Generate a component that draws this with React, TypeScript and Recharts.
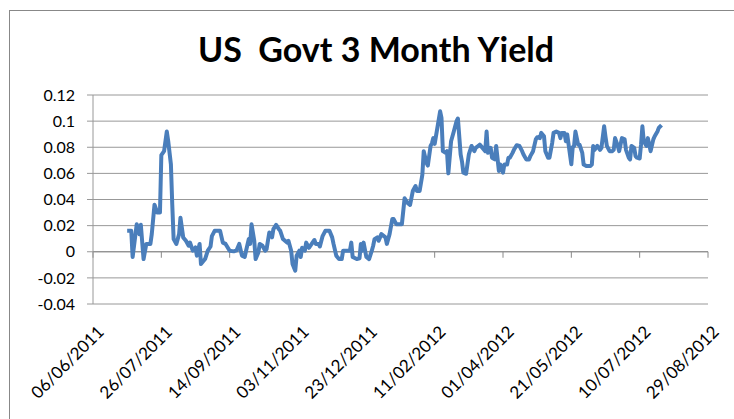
import { LineChart, Line, XAxis, YAxis, CartesianGrid, ReferenceLine } from "recharts";

const title = "US  Govt 3 Month Yield";

const tickLabels = [
  "06/06/2011", "26/07/2011", "14/09/2011", "03/11/2011", "23/12/2011",
  "11/02/2012", "01/04/2012", "21/05/2012", "10/07/2012", "29/08/2012",
];

const yTicks = [-0.04, -0.02, 0, 0.02, 0.04, 0.06, 0.08, 0.1, 0.12];

// observation dates (dd/mm/yyyy), one line per month
const dates = [
  "01/07/2011", "04/07/2011", "05/07/2011", "08/07/2011", "10/07/2011", "11/07/2011", "13/07/2011", "15/07/2011", "18/07/2011", "19/07/2011", "21/07/2011", "23/07/2011", "25/07/2011", "26/07/2011", "28/07/2011", "30/07/2011", "31/07/2011",
  "02/08/2011", "03/08/2011", "04/08/2011", "06/08/2011", "08/08/2011", "09/08/2011", "11/08/2011", "13/08/2011", "15/08/2011", "16/08/2011", "18/08/2011", "20/08/2011", "21/08/2011", "23/08/2011", "24/08/2011", "27/08/2011", "29/08/2011", "31/08/2011",
  "01/09/2011", "03/09/2011", "07/09/2011", "09/09/2011", "11/09/2011", "14/09/2011", "17/09/2011", "19/09/2011", "21/09/2011", "23/09/2011", "25/09/2011", "26/09/2011", "28/09/2011", "29/09/2011", "30/09/2011",
  "02/10/2011", "03/10/2011", "05/10/2011", "06/10/2011", "08/10/2011", "10/10/2011", "11/10/2011", "13/10/2011", "15/10/2011", "16/10/2011", "18/10/2011", "20/10/2011", "21/10/2011", "23/10/2011", "26/10/2011", "27/10/2011", "29/10/2011", "30/10/2011",
  "01/11/2011", "02/11/2011", "04/11/2011", "05/11/2011", "06/11/2011", "08/11/2011", "09/11/2011", "11/11/2011", "13/11/2011", "15/11/2011", "16/11/2011", "18/11/2011", "19/11/2011", "21/11/2011", "23/11/2011", "26/11/2011", "28/11/2011", "29/11/2011",
  "01/12/2011", "03/12/2011", "05/12/2011", "06/12/2011", "11/12/2011", "12/12/2011", "13/12/2011", "16/12/2011", "18/12/2011", "19/12/2011", "20/12/2011", "21/12/2011", "23/12/2011", "25/12/2011", "27/12/2011", "28/12/2011", "29/12/2011", "31/12/2011",
  "01/01/2012", "03/01/2012", "06/01/2012", "07/01/2012", "09/01/2012", "11/01/2012", "12/01/2012", "14/01/2012", "18/01/2012", "20/01/2012", "22/01/2012", "24/01/2012", "26/01/2012", "28/01/2012", "29/01/2012", "31/01/2012",
  "02/02/2012", "03/02/2012", "05/02/2012", "06/02/2012", "08/02/2012", "09/02/2012", "10/02/2012", "11/02/2012", "13/02/2012", "15/02/2012", "16/02/2012", "17/02/2012", "19/02/2012", "20/02/2012", "21/02/2012", "23/02/2012", "25/02/2012", "27/02/2012", "28/02/2012",
  "01/03/2012", "02/03/2012", "03/03/2012", "05/03/2012", "07/03/2012", "09/03/2012", "11/03/2012", "12/03/2012", "14/03/2012", "15/03/2012", "17/03/2012", "19/03/2012", "20/03/2012", "21/03/2012", "23/03/2012", "24/03/2012", "26/03/2012", "27/03/2012", "29/03/2012", "30/03/2012",
  "01/04/2012", "02/04/2012", "04/04/2012", "05/04/2012", "06/04/2012", "08/04/2012", "09/04/2012", "11/04/2012", "13/04/2012", "15/04/2012", "16/04/2012", "18/04/2012", "20/04/2012", "21/04/2012", "23/04/2012", "25/04/2012", "26/04/2012", "28/04/2012", "29/04/2012",
  "01/05/2012", "02/05/2012", "04/05/2012", "05/05/2012", "07/05/2012", "08/05/2012", "10/05/2012", "12/05/2012", "13/05/2012", "14/05/2012", "16/05/2012", "17/05/2012", "18/05/2012", "20/05/2012", "21/05/2012", "22/05/2012", "23/05/2012", "24/05/2012", "26/05/2012", "27/05/2012", "29/05/2012", "30/05/2012",
  "01/06/2012", "04/06/2012", "05/06/2012", "06/06/2012", "07/06/2012", "09/06/2012", "11/06/2012", "12/06/2012", "14/06/2012", "15/06/2012", "16/06/2012", "18/06/2012", "20/06/2012", "21/06/2012", "22/06/2012", "24/06/2012", "25/06/2012", "27/06/2012", "29/06/2012", "30/06/2012",
  "02/07/2012", "03/07/2012", "04/07/2012", "06/07/2012", "07/07/2012", "08/07/2012", "10/07/2012", "11/07/2012", "12/07/2012", "13/07/2012", "15/07/2012", "16/07/2012", "18/07/2012", "20/07/2012", "21/07/2012", "23/07/2012", "24/07/2012", "26/07/2012",
];

const yields = [
  0.016, 0.016, -0.004, 0.021, 0.0135, 0.0206, -0.0056, 0.006, 0.006, 0.0135, 0.036, 0.03, 0.03, 0.074, 0.077, 0.092, 0.085,
  0.067, 0.036, 0.0097, 0.006, 0.0135, 0.026, 0.011, 0.0084, 0.0046, 0.007, 0.0008, 0.0033, -0.003, 0.006, -0.0094, -0.0056, 0.0008, 0.004,
  0.012, 0.016, 0.016, 0.007, 0.006, 0.0008, 0.0003, 0.001, 0.006, -0.003, -0.004, 0.0008, 0.0097, 0.006, 0.021,
  0.0084, -0.0056, -0.0005, 0.006, 0.0046, 0.0008, 0.002, 0.0147, 0.011, 0.0173, 0.0206, 0.0173, 0.016, 0.0097, 0.007, 0.0084, 0.0008, -0.0094,
  -0.0145, -0.003, 0.0008, -0.004, 0.003, 0.0008, 0.007, 0.003, 0.006, 0.009, 0.006, 0.006, 0.004, 0.012, 0.016, 0.016, 0.011, 0.006,
  -0.003, -0.0056, -0.0056, 0.0008, 0.0008, 0.007, -0.004, -0.0056, -0.005, 0.006, 0.0008, 0.007, -0.004, -0.0056, 0.0008, 0.0046, 0.0097, 0.011,
  0.0084, 0.0135, 0.011, 0.006, 0.0135, 0.025, 0.025, 0.021, 0.021, 0.041, 0.0376, 0.0358, 0.0465, 0.0503, 0.0465, 0.0465,
  0.059, 0.077, 0.068, 0.066, 0.081, 0.083, 0.087, 0.0826, 0.095, 0.1075, 0.1024, 0.077, 0.0757, 0.077, 0.06, 0.0846, 0.092, 0.0999, 0.102,
  0.0745, 0.069, 0.0605, 0.0597, 0.0745, 0.081, 0.077, 0.0795, 0.081, 0.082, 0.0795, 0.077, 0.092, 0.0757, 0.0795, 0.072, 0.0707, 0.081, 0.0618, 0.0668,
  0.0605, 0.0668, 0.0668, 0.072, 0.072, 0.0757, 0.078, 0.0816, 0.081, 0.077, 0.0745, 0.0707, 0.0707, 0.0732, 0.077, 0.086, 0.0877, 0.087, 0.091,
  0.0884, 0.077, 0.072, 0.072, 0.0834, 0.091, 0.092, 0.091, 0.087, 0.091, 0.091, 0.0846, 0.0897, 0.0745, 0.067, 0.08, 0.081, 0.092, 0.082, 0.082, 0.0757, 0.0668,
  0.0656, 0.0656, 0.0668, 0.081, 0.078, 0.081, 0.078, 0.0795, 0.096, 0.088, 0.081, 0.077, 0.077, 0.078, 0.087, 0.081, 0.077, 0.087, 0.086, 0.078,
  0.072, 0.0707, 0.081, 0.0795, 0.0732, 0.072, 0.0714, 0.082, 0.096, 0.0846, 0.081, 0.087, 0.077, 0.086, 0.0884, 0.092, 0.0948, 0.097,
];

const toTime = (s: string) => {
  const [d, m, y] = s.split("/").map(Number);
  return Date.UTC(y, m - 1, d);
};

const pad = (n: number) => String(n).padStart(2, "0");
const fmtDate = (t: number) => {
  const d = new Date(t);
  return `${pad(d.getUTCDate())}/${pad(d.getUTCMonth() + 1)}/${d.getUTCFullYear()}`;
};

const xTicks = tickLabels.map(toTime);
const data = dates.map((d, i) => ({ t: toTime(d), v: yields[i] }));

const FONT = "Lato, 'Open Sans', sans-serif";
const GRID = "#989898";

function DateTick(props: any) {
  const { x, y, payload } = props;
  return (
    <g transform={`translate(${x},${y})`}>
      <text
        x={12}
        y={29}
        textAnchor="end"
        transform="rotate(-45, 12, 29)"
        fontFamily={FONT}
        fontSize={17}
        fill="#000"
      >
        {fmtDate(payload.value)}
      </text>
    </g>
  );
}

export default function App() {
  return (
    <div
      style={{
        position: "fixed",
        left: 0,
        top: 0,
        width: 734,
        height: 419,
        overflow: "hidden",
        background: "#fff",
      }}
    >
      <div
        style={{
          position: "absolute",
          left: 9,
          top: 10,
          width: 800,
          height: 500,
          border: "1px solid #888",
        }}
      />
      <div
        style={{
          position: "absolute",
          left: 0,
          width: 752,
          top: 28,
          textAlign: "center",
          fontFamily: FONT,
          fontSize: 34,
          fontWeight: "bold",
          whiteSpace: "pre",
          color: "#000",
        }}
      >
        {title}
      </div>
      <div style={{ position: "absolute", left: 0, top: 0 }}>
        <LineChart
          width={734}
          height={419}
          data={data}
          margin={{ top: 95, right: 26, bottom: 25, left: 33 }}
        >
          <CartesianGrid vertical={false} stroke={GRID} />
          <XAxis
            dataKey="t"
            type="number"
            scale="linear"
            domain={[xTicks[0], xTicks[xTicks.length - 1]]}
            ticks={xTicks}
            interval={0}
            axisLine={false}
            tickLine={false}
            tickSize={0}
            tickMargin={0}
            height={90}
            tick={<DateTick />}
          />
          <YAxis
            domain={[-0.04, 0.12]}
            ticks={yTicks}
            interval={0}
            width={60}
            tickSize={6}
            tickMargin={12}
            stroke={GRID}
            tick={{ fill: "#000", fontSize: 16, fontFamily: FONT }}
            tickFormatter={(v: number) => String(Number(v.toFixed(2)))}
          />
          <ReferenceLine y={0} stroke="#8a8a8a" />
          {xTicks.map((t) => (
            <ReferenceLine
              key={t}
              segment={[
                { x: t, y: 0 },
                { x: t, y: -0.0046 },
              ]}
              stroke="#8a8a8a"
              ifOverflow="visible"
            />
          ))}
          <Line
            type="linear"
            dataKey="v"
            stroke="#4A7EBB"
            strokeWidth={4}
            strokeLinejoin="round"
            dot={false}
            isAnimationActive={false}
          />
        </LineChart>
      </div>
    </div>
  );
}
